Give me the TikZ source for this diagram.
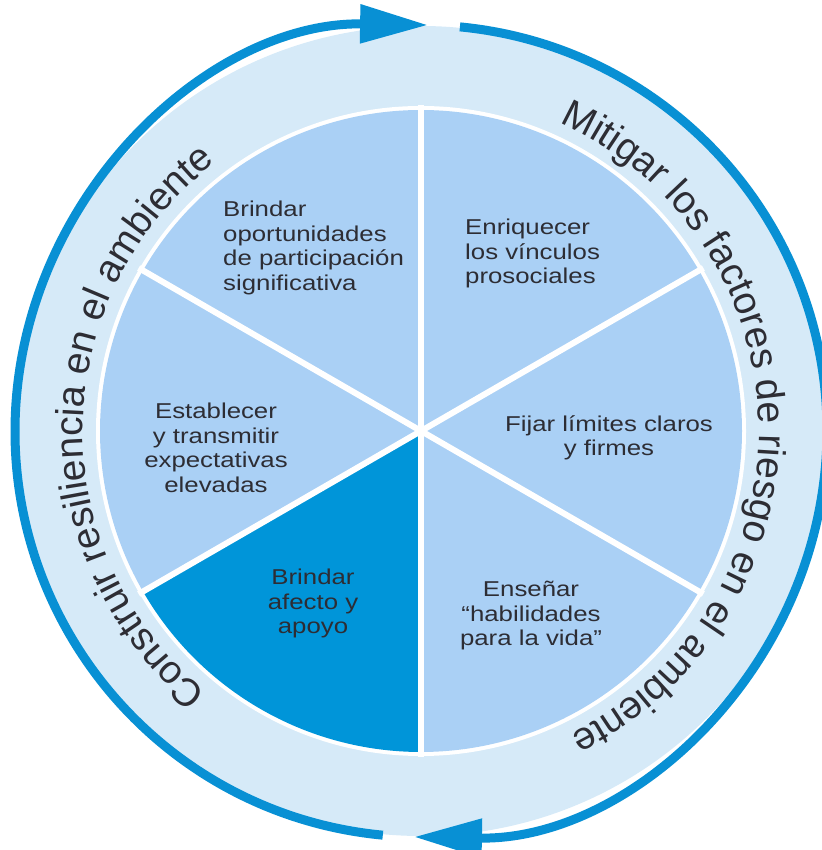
\documentclass[tikz,border=0pt]{standalone}
\usepackage{fontspec}
\setmainfont{Liberation Sans}
\newfontfamily\widefont[FakeStretch=1.2]{Liberation Sans}
\usetikzlibrary{arrows.meta,decorations.text}
\definecolor{ringblue}{RGB}{214,234,248}
\definecolor{secblue}{RGB}{170,208,245}
\definecolor{darkblue}{RGB}{0,149,217}
\definecolor{arcblue}{RGB}{8,144,212}
\definecolor{txtgray}{RGB}{45,45,52}
\newcommand\ringfont{\fontsize{39}{46}\selectfont\color{txtgray}}

\begin{document}
\begin{tikzpicture}[x=1pt,y=1pt,>={Triangle[length=68pt,width=37pt]},
  sector/.style={fill=secblue},
  sepline/.style={white,line width=6pt},
  ringarc/.style={draw=arcblue,line width=9pt},
  sectxt/.style={inner sep=0pt,text=txtgray,font=\widefont\fontsize{21.5}{24.5}\selectfont}]
\useasboundingbox (0,0) rectangle (821,850);
\begin{scope}[shift={(421,419)}]
\fill[ringblue] (0,0) circle (405pt);
\fill[white] (0,0) circle (325pt);

\fill[sector] (0,0) -- (90:321pt) arc[start angle=90,end angle=150,radius=321pt] -- cycle;
\fill[sector] (0,0) -- (150:321pt) arc[start angle=150,end angle=210,radius=321pt] -- cycle;
\fill[darkblue] (0,0) -- (210:321pt) arc[start angle=210,end angle=270,radius=321pt] -- cycle;
\fill[sector] (0,0) -- (270:321pt) arc[start angle=270,end angle=330,radius=321pt] -- cycle;
\fill[sector] (0,0) -- (-30:321pt) arc[start angle=-30,end angle=30,radius=321pt] -- cycle;
\fill[sector] (0,0) -- (30:321pt) arc[start angle=30,end angle=90,radius=321pt] -- cycle;

\draw[sepline] (90:326pt) -- (270:326pt);
\draw[sepline] (30:326pt) -- (210:326pt);
\draw[sepline] (150:326pt) -- (330:326pt);

\draw[ringarc,->] (264.6:406pt) arc[start angle=264.6,end angle=89,radius=406pt];
\draw[ringarc,->] (84.5:406pt) arc[start angle=84.5,end angle=-91,radius=406pt];

\path[decorate,decoration={text along path,text align=center,
  text={|\ringfont|Construir resiliencia en el ambiente}}]
  (269:338pt) arc[start angle=269,end angle=89,radius=338pt];
\path[decorate,decoration={text along path,text align=center,
  text={|\ringfont|Mitigar los factores de riesgo en el ambiente}}]
  (91:338pt) arc[start angle=91,end angle=-89,radius=338pt];

\node[sectxt,anchor=north west,align=left] (oportunidades) at (-198,230)
  {Brindar\\oportunidades\\de participación\\significativa};
\node[sectxt,anchor=north west,align=left] (vinculos) at (44,212)
  {Enriquecer\\los vínculos\\prosociales};
\node[sectxt,anchor=north,align=center] (limites) at (188,16)
  {Fijar límites claros\\y firmes};
\node[sectxt,anchor=north,align=center] (habilidades) at (110,-150)
  {Enseñar\\“habilidades\\para la vida”};
\node[sectxt,anchor=north,align=center] (afecto) at (-108,-138)
  {Brindar\\afecto y\\apoyo};
\node[sectxt,anchor=north,align=center] (expectativas) at (-205,28)
  {Establecer\\y transmitir\\expectativas\\elevadas};
\end{scope}
\end{tikzpicture}
\end{document}
